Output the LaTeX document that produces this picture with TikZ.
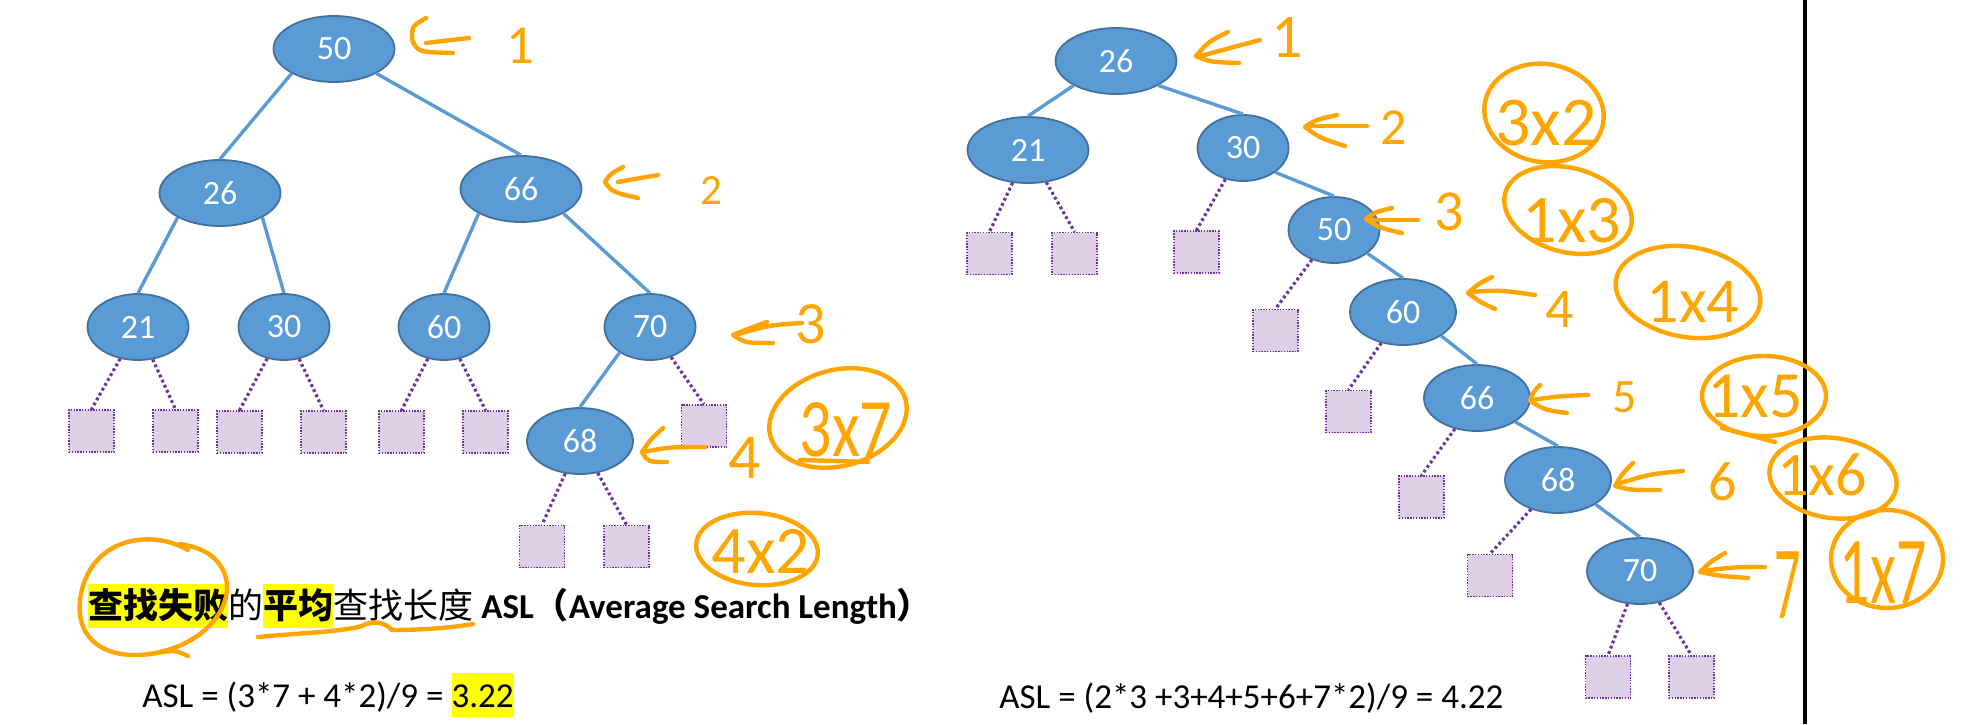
\documentclass[tikz,border=0pt]{standalone}
\usepackage{fontspec}
\setmainfont{Carlito}
\newfontfamily\cjk{Noto Sans CJK SC}
\usetikzlibrary{shapes.geometric}
\definecolor{nodeblue}{HTML}{5B9BD5}
\definecolor{nodeedge}{HTML}{41719C}
\definecolor{leafpurple}{HTML}{7030A0}
\definecolor{leaffill}{HTML}{DDD0E6}
\definecolor{orng}{HTML}{FFA500}
\definecolor{hlyellow}{HTML}{FFFF00}
\newcommand\hlbox[1]{{\setlength{\fboxsep}{0pt}\colorbox{hlyellow}{\rule[-5pt]{0pt}{22pt}#1}}}
\newcommand\af[1]{\fontsize{#1}{#1}\selectfont}
\begin{document}
\begin{tikzpicture}[x=0.5pt,y=-0.5pt,
 tn/.style={ellipse, fill=nodeblue, draw=nodeedge, line width=0.9pt, text=white, font=\af{17}, inner sep=0pt, minimum height=33pt},
 wideN/.style={tn, minimum width=60.5pt},
 midN/.style={tn, minimum width=45.5pt},
 bigN/.style={tn, minimum width=53pt},
 leaf/.style={rectangle, fill=leaffill, draw=leafpurple, line width=0.7pt, dash pattern=on 0.7pt off 0.7pt, minimum width=22.5pt, minimum height=21pt, inner sep=0pt},
 edge/.style={draw=nodeblue, line width=1.7pt},
 nul/.style={draw=leafpurple, line width=1.6pt, dash pattern=on 1.4pt off 1.4pt},
 ann/.style={draw=orng, line width=2.2pt, line cap=round, line join=round},
 anntext/.style={text=orng, inner sep=0pt},
]
\useasboundingbox (0,0) rectangle (1971,724);
\fill[white] (0,0) rectangle (1971,724);

% ---------- left tree ----------
\node[wideN] (L50) at (334,49) {50};
\node[wideN] (L26) at (220,193) {26};
\node[wideN] (L66) at (521,189) {66};
\node[tn, minimum width=50.5pt] (L21) at (138,327) {21};
\node[midN] (L30) at (284,327) {30};
\node[midN] (L60) at (444,327) {60};
\node[midN] (L70) at (650,327) {70};
\node[bigN] (L68) at (580,441) {68};
\node[leaf] (la) at (91.5,431) {};
\node[leaf] (lb) at (175.5,431) {};
\node[leaf] (lc) at (239.5,432) {};
\node[leaf] (ld) at (323.5,432) {};
\node[leaf] (le) at (401.5,432) {};
\node[leaf] (lf) at (485.5,432) {};
\node[leaf] (lg) at (704,426) {};
\node[leaf] (lh) at (542,546.5) {};
\node[leaf] (li) at (626.5,546.5) {};
\draw[edge] (L50.210) -- (L26.north);
\draw[edge] (L50.330) -- (L66.north);
\draw[edge] (L26.210) -- (L21.north);
\draw[edge] (L26.330) -- (L30.north);
\draw[edge] (L66.210) -- (L60.north);
\draw[edge] (L66.330) -- (L70.north);
\draw[edge] (L70.220) -- (L68.north);
\draw[nul] (L21) -- (la.north);
\draw[nul] (L21) -- (lb.north);
\draw[nul] (L30) -- (lc.north);
\draw[nul] (L30) -- (ld.north);
\draw[nul] (L60) -- (le.north);
\draw[nul] (L60) -- (lf.north);
\draw[nul] (L70) -- (lg.north);
\draw[nul] (L68) -- (lh.north);
\draw[nul] (L68) -- (li.north);

% ---------- right tree ----------
\node[wideN] (R26) at (1116,61) {26};
\node[wideN] (R21) at (1028,150) {21};
\node[midN] (R30) at (1243,148) {30};
\node[midN] (R50) at (1334,230) {50};
\node[bigN] (R60) at (1403,312) {60};
\node[bigN] (R66) at (1477,398) {66};
\node[bigN] (R68) at (1558,480) {68};
\node[bigN] (R70) at (1640,571) {70};
\node[leaf] (ra) at (989.5,253.5) {};
\node[leaf] (rb) at (1074.5,253.5) {};
\node[leaf] (rc) at (1196.5,252) {};
\node[leaf] (rd) at (1275.5,330.5) {};
\node[leaf] (re) at (1348.5,411.5) {};
\node[leaf] (rf) at (1421.5,497) {};
\node[leaf] (rg) at (1490,575.5) {};
\node[leaf] (rh) at (1608,677) {};
\node[leaf] (ri) at (1691.5,677) {};
\draw[edge] (R26.210) -- (R21.north);
\draw[edge] (R26.330) -- (R30.north);
\draw[edge] (R30.323) -- (R50.north);
\draw[edge] (R50.325) -- (R60.north);
\draw[edge] (R60.328) -- (R66.north);
\draw[edge] (R66.328) -- (R68.north);
\draw[edge] (R68.327) -- (R70.north);
\draw[nul] (R21) -- (ra.north);
\draw[nul] (R21) -- (rb.north);
\draw[nul] (R30) -- (rc.north);
\draw[nul] (R50) -- (rd.north);
\draw[nul] (R60) -- (re.north);
\draw[nul] (R66) -- (rf.north);
\draw[nul] (R68) -- (rg.north);
\draw[nul] (R70) -- (rh.north);
\draw[nul] (R70) -- (ri.north);

% vertical separator
\coordinate (vt) at (1805,0);
\coordinate (vb) at (1805,724);
\draw[line width=1.6pt] (vt) -- (vb);

% ---------- texts ----------
\node[anchor=base west, inner sep=0pt, font=\af{17.5}] (title) at (88,618)
 {\hlbox{\cjk\bfseries 查找失败}{\cjk 的}\hlbox{\cjk\bfseries 平均}{\cjk 查找长度} \textbf{ASL}{\cjk\bfseries （}\textbf{Average Search Length}{\cjk\bfseries ）}};
\node[anchor=base west, inner sep=0pt, font=\af{17.5}] (aslL) at (142,707)
 {ASL = (3*7 + 4*2)/9 = \hlbox{3.22}};
\node[anchor=base west, inner sep=0pt, font=\af{17.5}] (aslR) at (999,708)
 {ASL = (2*3 +3+4+5+6+7*2)/9 = 4.22};

% ---------- orange annotations, left ----------
\draw[ann] (426,18) .. controls (412,26) .. (412,40) .. controls (418,52) .. (453,53);
\draw[ann] (426,43) -- (469,38);
\node[anntext, font=\af{27.5}] at (520,46) {1};
\draw[ann] (623,167) .. controls (610,174) .. (605,182) .. controls (612,192) .. (638,198);
\draw[ann] (618,182) -- (658,175);
\node[anntext, font=\af{21.5}] at (711,191) {2};
\draw[ann] (767,322) .. controls (745,330) .. (733,335) .. controls (745,343) .. (773,343);
\draw[ann] (735,335) .. controls (770,325) .. (802,323);
\node[anntext, font=\af{30}] at (811,324) {3};
\draw[ann] (663,428) .. controls (650,440) .. (642,452) .. controls (648,462) .. (667,462);
\draw[ann] (643,452) .. controls (670,447) .. (705,447);
\node[anntext, font=\af{32}] at (745,458) {4};
\draw[ann] (838,418) ellipse [x radius=35pt, y radius=24pt, rotate=15];
\node[anntext, font=\af{32}, yscale=1.3] at (846,430) {3x7};
\draw[ann] (800,460) -- (868,462);
\draw[ann] (757,549) ellipse [x radius=30.5pt, y radius=18pt, rotate=-5];
\node[anntext, font=\af{34}] at (761,551) {4x2};
% circle round 查找失败
\draw[ann] (188,550) .. controls (150,528) and (88,538) .. (80,600)
  .. controls (75,648) and (118,662) .. (160,652)
  .. controls (212,640) and (236,600) .. (224,572)
  .. controls (216,556) and (204,548) .. (180,544);
\draw[ann] (150,654) .. controls (175,650) .. (188,656);
% underline under 查找长度
\draw[ann] (258,637) .. controls (300,633) and (340,632) .. (362,626)
  .. controls (372,620) and (385,622) .. (392,630)
  .. controls (420,630) and (450,628) .. (473,624);

% ---------- orange annotations, right ----------
\draw[ann] (1228,32) .. controls (1208,42) .. (1196,56) .. controls (1210,62) .. (1239,63);
\draw[ann] (1197,57) .. controls (1230,48) .. (1260,40);
\node[anntext, font=\af{31}] at (1287,38) {1};
\draw[ann] (1337,115) .. controls (1315,120) .. (1305,127) .. controls (1320,138) .. (1345,146);
\draw[ann] (1307,126) -- (1367,126);
\node[anntext, font=\af{26}] at (1394,128) {2};
\draw[ann] (1392,208) .. controls (1375,212) .. (1366,219) .. controls (1380,228) .. (1402,233);
\draw[ann] (1368,220) -- (1418,220);
\node[anntext, font=\af{29}] at (1449,212) {3};
\draw[ann] (1492,277) .. controls (1478,284) .. (1468,293) .. controls (1480,302) .. (1495,309);
\draw[ann] (1470,292) .. controls (1500,290) .. (1535,295);
\node[anntext, font=\af{28}] at (1560,310) {4};
\draw[ann] (1540,385) .. controls (1533,392) .. (1530,401) .. controls (1545,410) .. (1567,413);
\draw[ann] (1532,400) .. controls (1560,396) .. (1588,395);
\node[anntext, font=\af{24}] at (1625,397) {5};
\draw[ann] (1633,463) .. controls (1622,474) .. (1615,486) .. controls (1630,490) .. (1660,490);
\draw[ann] (1617,484) .. controls (1650,474) .. (1683,471);
\node[anntext, font=\af{28}] at (1723,482) {6};
\draw[ann] (1725,553) .. controls (1710,562) .. (1700,572) .. controls (1720,576) .. (1748,578);
\draw[ann] (1702,571) .. controls (1735,567) .. (1765,567);
\node[anntext, font=\af{26}, yscale=2] at (1788,585) {7};
\draw[ann] (1544,113) ellipse [x radius=30pt, y radius=24.5pt, rotate=-10];
\node[anntext, font=\af{35}] at (1546,123) {3x2};
\draw[ann] (1568,210) ellipse [x radius=32.5pt, y radius=21pt, rotate=-15];
\node[anntext, font=\af{34}] at (1572,221) {1x3};
\draw[ann] (1688,292) ellipse [x radius=36.5pt, y radius=22.5pt, rotate=-10];
\node[anntext, font=\af{32}] at (1693,302) {1x4};
\draw[ann] (1764,396) ellipse [x radius=31pt, y radius=20pt];
\draw[ann] (1722,428) -- (1775,442);
\node[anntext, font=\af{33}] at (1755,396) {1x5};
\draw[ann] (1833,478) ellipse [x radius=32pt, y radius=20pt, rotate=-8];
\node[anntext, font=\af{31}] at (1822,475) {1x6};
\draw[ann] (1887,559) ellipse [x radius=28pt, y radius=24.5pt];
\node[anntext, font=\af{30}, yscale=1.6] at (1883,573) {1x7};
\end{tikzpicture}
\end{document}
